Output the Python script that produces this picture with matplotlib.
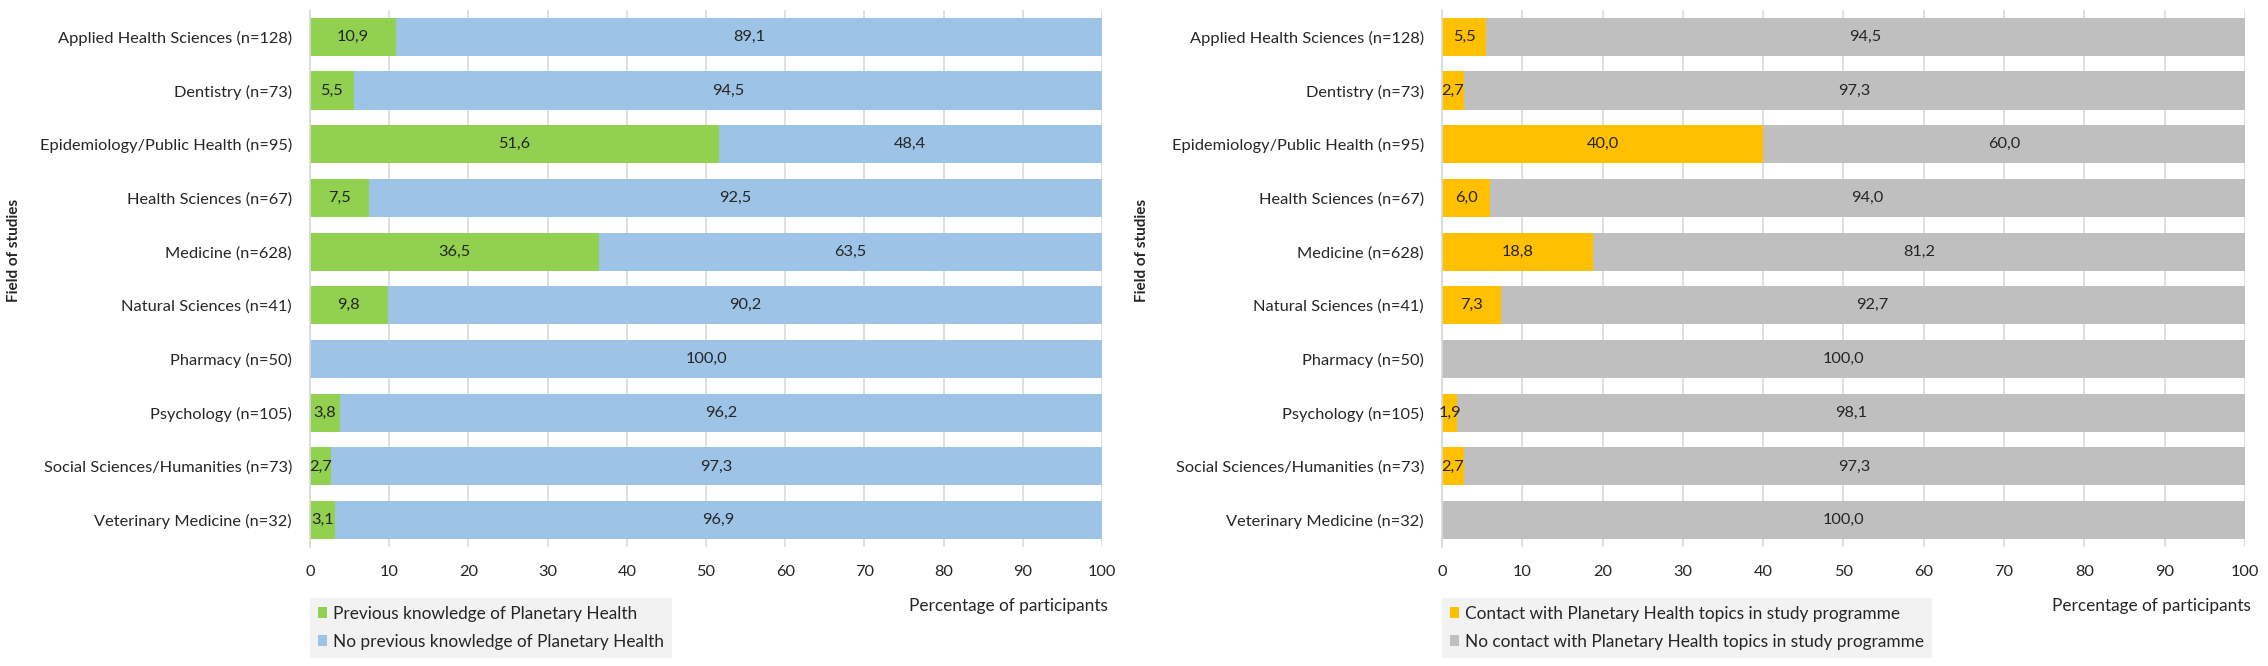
import matplotlib.pyplot as plt
import numpy as np

plt.rcParams['font.family'] = ['Lato', 'DejaVu Sans']

# data (percent of participants)
fields = ["Applied Health Sciences (n=128)", "Dentistry (n=73)",
          "Epidemiology/Public Health (n=95)", "Health Sciences (n=67)",
          "Medicine (n=628)", "Natural Sciences (n=41)", "Pharmacy (n=50)",
          "Psychology (n=105)", "Social Sciences/Humanities (n=73)",
          "Veterinary Medicine (n=32)"]

knowledge_yes = [10.9, 5.5, 51.6, 7.5, 36.5, 9.8, 0.0, 3.8, 2.7, 3.1]
knowledge_no = [89.1, 94.5, 48.4, 92.5, 63.5, 90.2, 100.0, 96.2, 97.3, 96.9]

contact_yes = [5.5, 2.7, 40.0, 6.0, 18.8, 7.3, 0.0, 1.9, 2.7, 0.0]
contact_no = [94.5, 97.3, 60.0, 94.0, 81.2, 92.7, 100.0, 98.1, 97.3, 100.0]

legend_left = ["Previous knowledge of Planetary Health",
               "No previous knowledge of Planetary Health"]
legend_right = ["Contact with Planetary Health topics in study programme",
                "No contact with Planetary Health topics in study programme"]

TXT = '#262626'
FS = 11.8
FS_LEG = 12.4


def fmt(v):
    return f"{v:.1f}".replace('.', ',')


def panel(ax, yes, no, colors, labels):
    y = np.arange(len(fields))
    ax.barh(y, yes, height=0.71, color=colors[0], label=labels[0], zorder=2)
    ax.barh(y, no, left=yes, height=0.71, color=colors[1], label=labels[1], zorder=2)
    # value labels in the middle of each segment (zeros are not shown)
    for vals, lefts in [(yes, [0] * len(yes)), (no, yes)]:
        for i, v in enumerate(vals):
            if v > 0:
                ax.text(lefts[i] + v / 2, y[i], fmt(v), ha='center', va='center',
                        fontsize=FS, color=TXT, zorder=3)
    ax.set_yticks(y)
    ax.set_yticklabels(fields)
    ax.set_ylim(len(fields) - 0.5, -0.5)
    ax.set_xlim(0, 100)
    ax.set_xticks(range(0, 101, 10))
    ax.grid(axis='x', color='#D9D9D9', linewidth=1.2, zorder=0)
    ax.grid(axis='y', visible=False)
    for s in ['top', 'right', 'bottom']:
        ax.spines[s].set_visible(False)
    ax.spines['left'].set_color('#D9D9D9')
    ax.spines['left'].set_linewidth(1.2)
    ax.tick_params(axis='both', length=0, labelsize=FS, colors=TXT)
    ax.tick_params(axis='y', pad=13)
    ax.tick_params(axis='x', pad=13)
    ax.set_xlabel("Percentage of participants", fontsize=FS_LEG, color=TXT)
    ax.xaxis.set_label_coords(1.008, -0.095)
    ax.xaxis.label.set_horizontalalignment('right')
    ax.set_ylabel("Field of studies", fontsize=11, fontweight='bold', color=TXT)
    ax.yaxis.set_label_coords(-0.365, 0.553)
    leg = ax.legend(loc='upper left', bbox_to_anchor=(0, -0.095), borderaxespad=0,
                    fontsize=FS_LEG, frameon=True, fancybox=False, facecolor='#F2F2F2',
                    edgecolor='none', framealpha=1, handlelength=0.55, handleheight=0.6,
                    handletextpad=0.35, labelspacing=0.7, borderpad=0.45)
    for t in leg.get_texts():
        t.set_color(TXT)


fig = plt.figure(figsize=(22.68, 6.66), dpi=100)
ax1 = fig.add_axes([0.1367, 0.1787, 0.3492, 0.8063])
ax2 = fig.add_axes([0.6358, 0.1787, 0.3540, 0.8063])

panel(ax1, knowledge_yes, knowledge_no, ['#92D050', '#9DC3E6'], legend_left)
panel(ax2, contact_yes, contact_no, ['#FFC000', '#BFBFBF'], legend_right)

fig.savefig('out.png', dpi=100)
